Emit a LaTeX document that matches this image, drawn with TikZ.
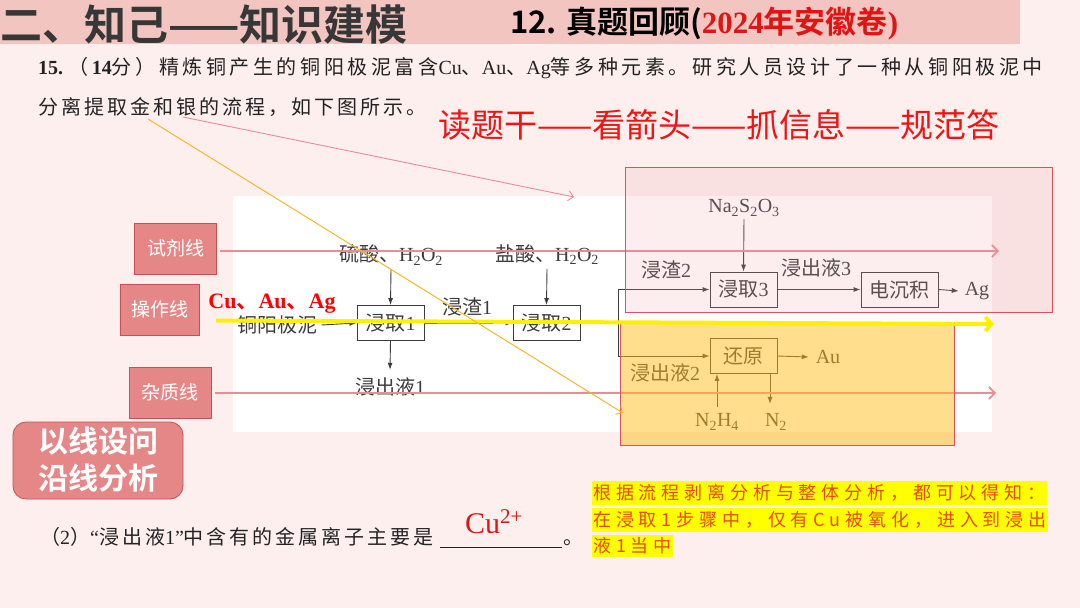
\documentclass[tikz,border=0pt]{standalone}
\usepackage{fontspec}
\setmainfont{Liberation Serif}
\newfontfamily\cjk[BoldFont={Noto Sans CJK SC Bold}]{Noto Sans CJK SC}
\newfontfamily\cjkq[LetterSpace=18]{Noto Sans CJK SC}
\newfontfamily\cjkr[LetterSpace=15]{Noto Sans CJK SC}
\newfontfamily\cjkh[LetterSpace=27]{Noto Sans CJK SC}
\usetikzlibrary{arrows.meta}
\definecolor{bgpink}{RGB}{252,239,238}
\definecolor{band}{RGB}{242,197,192}
\definecolor{titlegray}{RGB}{55,55,55}
\definecolor{qtext}{RGB}{35,35,35}
\definecolor{ansred}{RGB}{225,20,20}
\definecolor{mottored}{RGB}{240,20,20}
\definecolor{labfill}{RGB}{230,135,135}
\definecolor{labdraw}{RGB}{200,80,80}
\definecolor{pinkline}{RGB}{232,140,150}
\definecolor{dtext}{RGB}{60,60,60}
\definecolor{ylw}{RGB}{255,240,0}
\definecolor{diag}{RGB}{245,185,40}
\definecolor{hlt}{RGB}{255,255,0}
\definecolor{hltext}{RGB}{230,75,20}
\definecolor{redrect}{RGB}{225,80,90}
\definecolor{redfill}{RGB}{240,160,170}
\definecolor{ylwfill}{RGB}{255,190,30}
\newcommand\ffs{\fontsize{20}{20}\selectfont}
\tikzset{
  fbox/.style={draw=dtext, line width=0.9pt, minimum height=35, inner sep=0, font=\ffs, text=dtext},
  ftxt/.style={inner sep=0, font=\ffs, text=dtext},
  farr/.style={draw=dtext, line width=0.9pt, -{Latex[length=7pt,width=5pt]}},
  labbox/.style={draw=labdraw, fill=labfill, text=white, line width=0.8pt, inner sep=0,
    font=\cjk\fontsize{19}{19}\selectfont, minimum height=51},
  pinkarr/.style={draw=pinkline, line width=1.6pt, -{Straight Barb[length=6pt,width=12pt]}},
  thinpink/.style={draw=pinkline, line width=0.9pt, -{Straight Barb[length=5pt,width=10pt]}},
  diagarr/.style={draw=diag, line width=1pt, -{Straight Barb[length=5pt,width=10pt]}},
  ylwarr/.style={draw=ylw, line width=4pt, -{Straight Barb[length=6pt,width=14pt]}},
  hl/.style={anchor=west, fill=hlt, text=hltext, inner xsep=1, inner ysep=3,
    font=\cjkh\fontsize{18}{18}\selectfont},
}
\begin{document}
\begin{tikzpicture}[x=1pt,y=-1pt]
\fill[bgpink] (0,0) rectangle (1080,608);
\useasboundingbox (0,0) rectangle (1080,608);
\fill[band] (0,0) rectangle (1020,44);
\node[anchor=west, inner sep=0, text=titlegray, font=\cjk\bfseries\fontsize{42}{42}\selectfont] (title) at (0,25) {二、知己——知识建模};
\node[anchor=west, inner sep=0, text=black, font=\fontsize{31}{31}\selectfont] (sub) at (510,24)
  {{\cjk\bfseries 12. 真题回顾(}{\color{ansred}\bfseries 2024{\cjk 年安徽卷})}};

% question text
\node[anchor=west, inner sep=0, text=qtext, font=\ffs] (q1) at (38,68)
  {\textbf{15.}\ {\cjkq （}\textbf{14}{\cjkq 分）精炼铜产生的铜阳极泥富含}Cu{\cjkq 、}Au{\cjkq 、}Ag{\cjkq 等多种元素。研究人员设计了一种从铜阳极泥中}};
\node[anchor=west, inner sep=0, text=qtext, font=\ffs] (q2) at (38,107)
  {{\cjkr 分离提取金和银的流程，如下图所示。}};
\node[inner sep=0, text=mottored, font=\cjk\fontsize{33}{33}\selectfont] (motto) at (719,125)
  {读题干——看箭头——抓信息——规范答};

% flow chart area
\fill[white] (233,196) rectangle (992,432);

\node[fbox, minimum width=67] (b1) at (390.5,323) {{\cjk 浸取}1};
\node[fbox, minimum width=67] (b2) at (546.5,323) {{\cjk 浸取}2};
\node[fbox, minimum width=67] (b3) at (743.5,289.5) {{\cjk 浸取}3};
\node[fbox, minimum width=77] (b4) at (899.5,289.5) {\cjk 电沉积};
\node[fbox, minimum width=67] (b5) at (743.5,356) {\cjk 还原};

\node[ftxt, outer sep=4] (src) at (277.5,325) {\cjk 铜阳极泥};
\node[ftxt, outer sep=4] (r1) at (391,255) {{\cjk 硫酸、}H\textsubscript{2}O\textsubscript{2}};
\node[ftxt, outer sep=4] (r2) at (547,255) {{\cjk 盐酸、}H\textsubscript{2}O\textsubscript{2}};
\node[ftxt, outer sep=8] (w1) at (390,387) {{\cjk 浸出液}1};
\node[ftxt] (s1) at (467,307) {{\cjk 浸渣}1};
\node[ftxt] (s2) at (666,270) {{\cjk 浸渣}2};
\node[ftxt] (l2) at (665,373) {{\cjk 浸出液}2};
\node[ftxt] (l3) at (816,268) {{\cjk 浸出液}3};
\node[ftxt, outer sep=3] (na) at (744,208) {Na\textsubscript{2}S\textsubscript{2}O\textsubscript{3}};
\node[ftxt, outer sep=6] (ag) at (977,291) {Ag};
\node[ftxt, outer sep=7] (au) at (828,357) {Au};
\node[ftxt, outer sep=7] (nh) at (717,422) {N\textsubscript{2}H\textsubscript{4}};
\node[ftxt, outer sep=10] (n2) at (776,422) {N\textsubscript{2}};
\coordinate (br) at (618,323);

\draw[farr] (src.east) -- (b1.west);
\draw[farr] (r1.south) -- (b1.north);
\draw[farr] (b1.south) -- (w1.north);
\draw[farr] (b1.east) -- (b2.west);
\draw[farr] (r2.south) -- (b2.north);
\draw[dtext, line width=0.9pt] (b2.east) -- (br);
\draw[farr] (br) |- (b3.west);
\draw[farr] (br) |- (b5.west);
\draw[farr] (na.south) -- (b3.north);
\draw[farr] (b3.east) -- (b4.west);
\draw[farr] (b4.east) -- (ag.west);
\draw[farr] (b5.east) -- (au.west);
\draw[farr] (nh.north) -- (nh.north |- b5.south);
\draw[farr] ([xshift=26.5pt]b5.south) -- ([xshift=26.5pt]b5.south |- n2.north);

% guide lines
\node[labbox, minimum width=82] (lab1) at (175.5,248.5) {试剂线};
\node[labbox, minimum width=79] (lab2) at (159.5,309.5) {操作线};
\node[labbox, minimum width=82] (lab3) at (170,392.5) {杂质线};
\coordinate (p1s) at (220,251);
\coordinate (p1e) at (999,251);
\coordinate (p3s) at (215,393);
\coordinate (p3e) at (996,393);
\draw[pinkarr] (p1s) -- (p1e);
\draw[pinkarr] (p3s) -- (p3e);

% overlays
\draw[redrect, line width=1pt, fill=redfill, fill opacity=0.18] (625,167) rectangle (1052,312);
\draw[redrect, line width=1pt, fill=ylwfill, fill opacity=0.5] (620,322) rectangle (954,445);

\coordinate (y0) at (216,320.5);
\coordinate (y1) at (994,324);
\draw[ylwarr] (y0) -- (y1);

\node[inner sep=0, text=red, font=\fontsize{22}{22}\selectfont\bfseries] (cuauag) at (272,304)
  {Cu{\cjk\bfseries 、}Au{\cjk\bfseries 、}Ag};

% annotation diagonals
\coordinate (d1s) at (183,117);
\coordinate (d1e) at (574,197);
\coordinate (d2s) at (148,119);
\coordinate (d2e) at (623,413);
\draw[thinpink] (d1s) -- (d1e);
\draw[diagarr] (d2s) -- (d2e);

% rounded box
\draw[labdraw, line width=0.8pt, fill=labfill, rounded corners=13pt] (13,422) rectangle (183,499);
\node[inner sep=0, text=white, font=\cjk\bfseries\fontsize{30}{30}\selectfont] (rb1) at (98,441) {以线设问};
\node[inner sep=0, text=white, font=\cjk\bfseries\fontsize{30}{30}\selectfont] (rb2) at (98,478) {沿线分析};

% sub-question
\node[anchor=base west, inner sep=0, text=qtext, font=\ffs] (q3) at (40,544)
  {{\cjkr （}2{\cjkr ）}“{\cjkr 浸出液}1”{\cjkr 中含有的金属离子主要是}};
\node[anchor=base west, inner sep=0, text=qtext, font=\ffs] (q3dot) at (563,544) {{\cjk 。}};
\draw[qtext, line width=0.8pt] (440,547) -- (562,547);
\node[anchor=base west, inner sep=0, text=ansred, font=\fontsize{30}{30}\selectfont] (ans) at (465,533) {Cu\textsuperscript{2+}};

% highlighted note
\node[hl] (h1) at (592,493) {根据流程剥离分析与整体分析，都可以得知：};
\node[hl] (h2) at (592,520) {在浸取1步骤中，仅有Cu被氧化，进入到浸出};
\node[hl] (h3) at (592,546) {液1当中};
\end{tikzpicture}
\end{document}
